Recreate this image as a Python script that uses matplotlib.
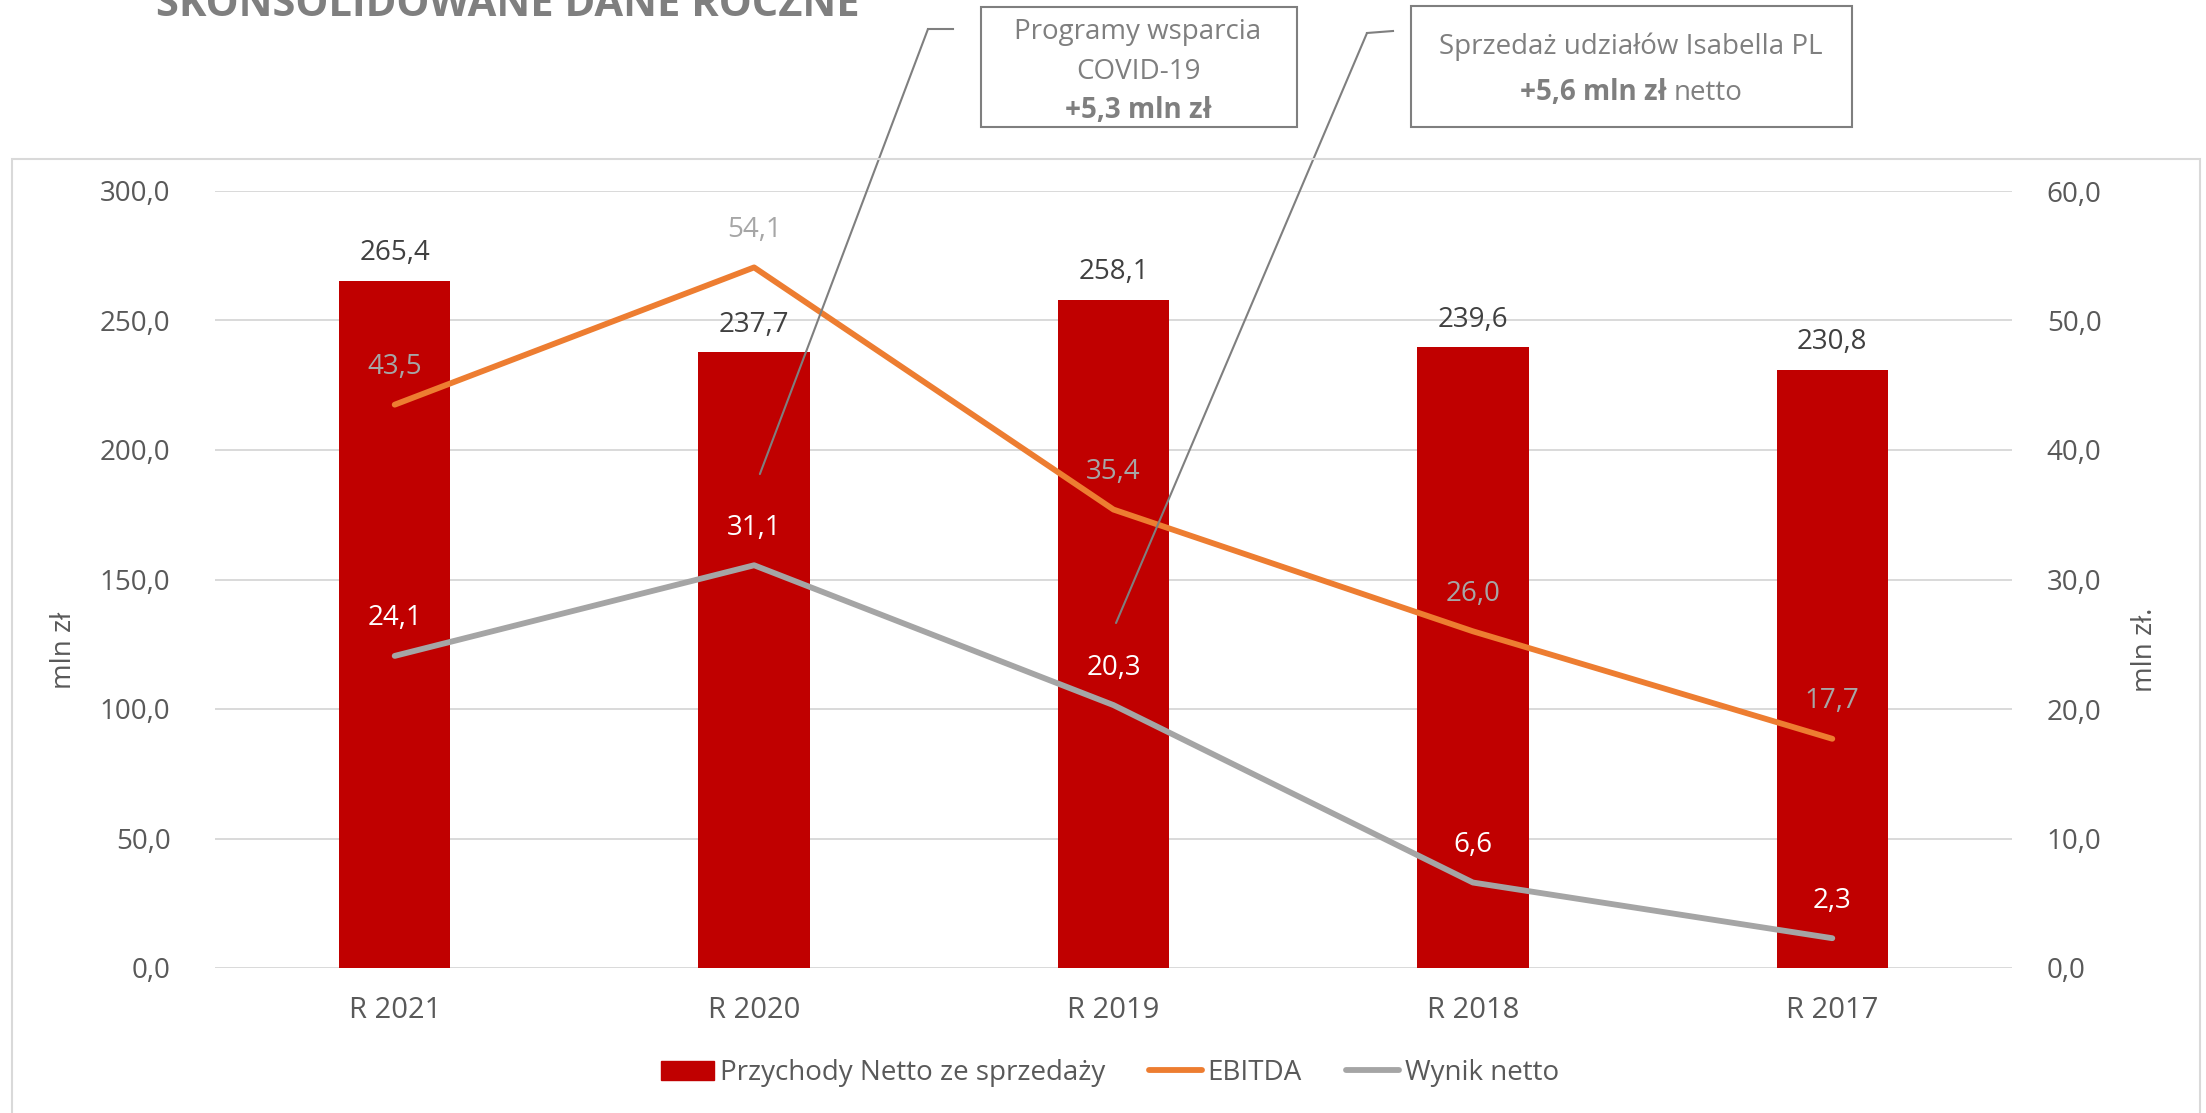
import matplotlib
matplotlib.use("Agg")
import matplotlib.pyplot as plt
from matplotlib.patches import Rectangle
from matplotlib.lines import Line2D

plt.rcParams['font.family'] = ['Open Sans', 'DejaVu Sans']

# data
years = ["R 2021", "R 2020", "R 2019", "R 2018", "R 2017"]
revenue = [265.4, 237.7, 258.1, 239.6, 230.8]
ebitda = [43.5, 54.1, 35.4, 26.0, 17.7]
net_result = [24.1, 31.1, 20.3, 6.6, 2.3]
left_ticks = [0, 50, 100, 150, 200, 250, 300]
right_ticks = [0, 10, 20, 30, 40, 50, 60]

RED = "#C00000"
ORANGE = "#ED7D31"
GRAY = "#A5A5A5"
TXT = "#595959"
GRID = "#D9D9D9"
BOXGRAY = "#7F7F7F"

W, H = 2206, 1113
FS = 20


def fx(x):
    return x / W


def fy(y):
    # y measured in pixels from the top edge
    return 1 - y / H


def fmt(v):
    return f"{v:.1f}".replace(".", ",")


fig = plt.figure(figsize=(W / 100, H / 100), dpi=100)
ax = fig.add_axes([fx(215), fy(968), fx(2012) - fx(215), fy(191) - fy(968)])
ax2 = ax.twinx()

x = list(range(len(years)))
ax.bar(x, revenue, width=0.31, color=RED, zorder=2)
ax.set_xlim(-0.5, len(years) - 0.5)
ax.set_ylim(0, 300)
ax2.set_ylim(0, 60)

ax.set_axisbelow(True)
ax.yaxis.grid(True, color=GRID, lw=1.4)
for a in (ax, ax2):
    for s in a.spines.values():
        s.set_visible(False)

ax.set_xticks(x)
ax.set_xticklabels(years)
ax.set_yticks(left_ticks)
ax.set_yticklabels([fmt(t) for t in left_ticks])
ax2.set_yticks(right_ticks)
ax2.set_yticklabels([fmt(t) for t in right_ticks])
ax.tick_params(axis="x", length=0, labelsize=21, colors=TXT, pad=20)
ax.tick_params(axis="y", length=0, labelsize=FS, colors=TXT, pad=32)
ax2.tick_params(axis="y", length=0, labelsize=FS, colors=TXT, pad=25)

ax2.plot(x, ebitda, color=ORANGE, lw=4.2, solid_capstyle="round", zorder=3)
ax2.plot(x, net_result, color=GRAY, lw=4.2, solid_capstyle="round", zorder=3)

for i, v in enumerate(revenue):
    ax.annotate(fmt(v), (i, v), xytext=(0, 20), textcoords="offset points",
                ha="center", va="center", fontsize=FS, color="#404040")
for i, v in enumerate(ebitda):
    ax2.annotate(fmt(v), (i, v), xytext=(0, 27), textcoords="offset points",
                 ha="center", va="center", fontsize=FS, color="#A6A6A6", zorder=4)
for i, v in enumerate(net_result):
    ax2.annotate(fmt(v), (i, v), xytext=(0, 27), textcoords="offset points",
                 ha="center", va="center", fontsize=FS, color="white", zorder=4)

# axis titles
fig.text(fx(64), fy(650), "mln zł", rotation=90, ha="center", va="center",
         fontsize=FS, color=TXT)
fig.text(fx(2145), fy(650), "mln zł.", rotation=90, ha="center", va="center",
         fontsize=FS, color=TXT)

# legend
handles = [Rectangle((0, 0), 1, 1, color=RED),
           Line2D([], [], color=ORANGE, lw=4.2, solid_capstyle="round"),
           Line2D([], [], color=GRAY, lw=4.2, solid_capstyle="round")]
labels = ["Przychody Netto ze sprzedaży", "EBITDA", "Wynik netto"]
fig.legend(handles, labels, loc="center", bbox_to_anchor=(fx(1110), fy(1073)),
           ncol=3, frameon=False, fontsize=FS, handlelength=1.9,
           handletextpad=0.2, columnspacing=1.6, labelcolor=TXT)

# outer chart frame
fig.add_artist(Rectangle((fx(12), fy(1125)), fx(2200) - fx(12), fy(159) - fy(1125),
                         transform=fig.transFigure, fill=False, edgecolor=GRID, lw=1.5))

# title, cut off at the top edge
fig.text(fx(156), fy(16), "SKONSOLIDOWANE DANE ROCZNE", fontsize=30,
         fontweight="bold", color=BOXGRAY, ha="left", va="baseline")

# callout boxes
fig.add_artist(Rectangle((fx(981), fy(127)), fx(1297) - fx(981), fy(7) - fy(127),
                         transform=fig.transFigure, facecolor="white",
                         edgecolor=BOXGRAY, lw=1.5))
fig.add_artist(Rectangle((fx(1411), fy(127)), fx(1852) - fx(1411), fy(6) - fy(127),
                         transform=fig.transFigure, facecolor="white",
                         edgecolor=BOXGRAY, lw=1.5))

fig.text(fx(1138), fy(39), "Programy wsparcia", ha="center", va="baseline",
         fontsize=FS, color=BOXGRAY)
fig.text(fx(1138), fy(79), "COVID-19", ha="center", va="baseline",
         fontsize=FS, color=BOXGRAY)
fig.text(fx(1138), fy(118), "+5,3 mln zł", ha="center", va="baseline",
         fontsize=FS, fontweight="bold", color=BOXGRAY)
fig.text(fx(1631), fy(54), "Sprzedaż udziałów Isabella PL", ha="center",
         va="baseline", fontsize=FS, color=BOXGRAY)

fig.canvas.draw()
renderer = fig.canvas.get_renderer()
t_bold = fig.text(0, fy(100), "+5,6 mln zł", ha="left", va="baseline",
                  fontsize=FS, fontweight="bold", color=BOXGRAY)
t_norm = fig.text(0, fy(100), "netto", ha="left", va="baseline",
                  fontsize=FS, color=BOXGRAY)
wb = t_bold.get_window_extent(renderer).width
wn = t_norm.get_window_extent(renderer).width
gap = 0.26 * FS * 100 / 72
start = 1631 - (wb + gap + wn) / 2
t_bold.set_x(fx(start))
t_norm.set_x(fx(start + wb + gap))

# leader lines from the boxes down into the chart
for stub, kink, target in [((953, 29), (928, 29), (1.016, 190.7)),
                           ((1393, 31), (1367, 33), (2.007, 133.2))]:
    fig.add_artist(Line2D([fx(stub[0]), fx(kink[0])], [fy(stub[1]), fy(kink[1])],
                          transform=fig.transFigure, color=BOXGRAY, lw=1.5))
    ax2.annotate("", xy=target, xycoords=ax.transData,
                 xytext=(fx(kink[0]), fy(kink[1])), textcoords="figure fraction",
                 arrowprops=dict(arrowstyle="-", color=BOXGRAY, lw=1.5,
                                 shrinkA=0, shrinkB=0),
                 annotation_clip=False, zorder=6)

fig.savefig("out.png", dpi=100)
